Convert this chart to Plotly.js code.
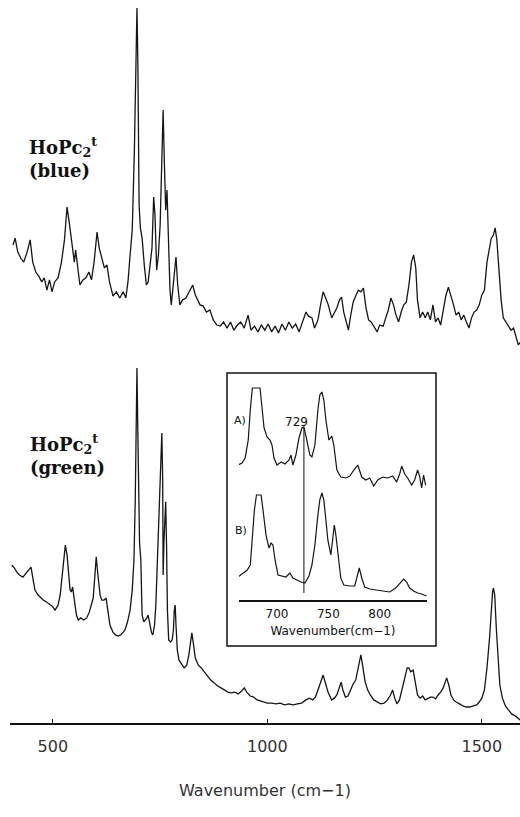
<!DOCTYPE html>
<html><head><meta charset="utf-8">
<script src="https://cdn.plot.ly/plotly-3.0.1.min.js"></script>
<style>html,body{margin:0;padding:0;background:#fff;} #chart{width:520px;height:817px;}</style>
</head><body><div id="chart"></div>
<script>
// Main spectrum: HoPc2t (blue)
const blueWavenumber = [407,412,418,425,432,440,447,453,460,467,474,480,486,492,498,504,512,520,527,533,538,545,550,553,558,563,570,577,584,590,596,603,608,614,620,626,632,640,648,656,664,670,675,680,685,690,694,696,698,701,704,708,713,718,722,727,731,735,738,742,746,750,754,757,760,763,766,769,773,776,780,784,787,791,796,802,810,818,826,832,838,843,850,858,866,874,882,890,898,906,914,922,930,938,946,955,962,970,978,986,994,1002,1010,1018,1026,1034,1042,1050,1058,1066,1074,1082,1090,1096,1104,1110,1118,1124,1130,1136,1142,1150,1156,1162,1168,1173,1178,1184,1189,1194,1200,1206,1212,1218,1224,1230,1236,1242,1250,1256,1262,1270,1276,1282,1288,1294,1300,1306,1312,1318,1324,1330,1336,1341,1346,1350,1356,1362,1368,1374,1380,1386,1392,1398,1404,1410,1416,1422,1428,1434,1440,1446,1452,1458,1464,1470,1476,1482,1488,1494,1500,1506,1512,1518,1522,1527,1531,1535,1540,1545,1550,1556,1562,1568,1574,1580,1585,1590];
const blueIntensity = [30.7,32.7,28.7,26.9,25.7,28.7,32.2,25.7,22.8,21.6,19.9,21.1,17.5,20.5,17.0,19.9,21.1,25.7,32.2,41.8,37.4,30.7,25.7,29.2,24.0,19.0,20.5,21.1,22.8,20.5,25.7,34.5,29.8,26.9,24.0,24.9,19.9,15.8,17.0,15.2,17.0,15.2,19.9,27.8,35.1,58.5,90.6,100,84.8,42.4,35.7,32.7,24.9,19.0,19.9,24.9,29.8,44.7,39.5,23.4,27.8,36.5,52.6,70.2,54.1,40.9,46.8,36.5,17.5,13.2,17.5,23.4,27.2,19.0,13.2,14.6,15.2,17.0,19.0,16.1,14.6,13.2,12.9,11.1,11.7,8.8,7.3,7.0,8.2,6.4,8.2,5.8,7.3,8.2,6.4,10.2,5.8,7.0,5.3,7.3,5.8,7.6,5.3,7.0,5.0,7.6,5.8,8.2,6.4,7.6,5.3,8.2,11.1,9.9,9.4,6.4,8.8,13.2,17.0,15.2,13.2,9.4,11.1,12.3,14.6,15.5,11.1,8.2,5.8,9.9,14.0,15.8,17.5,17.0,18.1,12.3,8.8,8.2,6.4,5.3,7.3,7.0,9.4,11.7,15.2,13.2,10.2,8.2,11.1,13.2,14.0,19.0,25.7,27.8,24.0,14.6,9.4,11.1,9.4,11.1,8.8,13.2,8.2,9.4,7.3,11.1,15.8,18.4,16.1,13.2,10.2,11.1,8.8,10.2,8.2,6.4,9.4,11.1,11.7,13.2,16.1,17.5,25.7,30.7,32.7,33.6,35.7,32.2,22.8,14.6,9.4,8.2,7.3,5.8,6.4,3.5,1.5,2.3];

// Main spectrum: HoPc2t (green)
const greenWavenumber = [404,410,416,422,430,436,442,449,454,458,465,472,478,485,492,498,505,512,517,521,525,529,533,537,540,543,546,550,555,559,565,572,579,585,590,594,598,601,605,610,614,619,624,628,633,640,646,652,658,664,668,674,680,685,689,692,694,696,698,700,702,705,708,712,716,719,722,726,730,733,737,740,743,746,749,752,754,756,757,759,761,763,765,767,770,774,778,781,783,785,787,790,794,800,806,812,817,821,824,828,832,839,846,853,860,868,876,884,892,900,908,916,924,932,940,946,952,960,968,976,984,992,1000,1010,1020,1030,1040,1050,1060,1070,1080,1090,1098,1106,1112,1118,1124,1130,1136,1142,1150,1156,1162,1168,1172,1176,1182,1188,1194,1200,1206,1212,1218,1222,1228,1234,1240,1248,1256,1264,1272,1280,1286,1292,1297,1302,1308,1314,1320,1326,1330,1334,1340,1345,1350,1356,1362,1368,1374,1380,1386,1392,1398,1404,1410,1414,1418,1423,1428,1434,1440,1448,1456,1464,1472,1480,1488,1494,1500,1506,1512,1518,1522,1525,1527,1530,1534,1538,1542,1548,1555,1562,1570,1578,1585,1590];
const greenIntensity = [44.5,43.7,42.5,41.7,41.1,42.0,43.1,43.9,40.3,37.5,36.1,35.2,34.6,34.1,33.5,33.0,31.8,33.2,36.1,40.3,45.9,50.1,47.3,40.8,37.5,36.9,38.3,34.6,30.4,29.0,29.6,29.0,29.6,31.3,33.2,35.2,41.7,46.8,41.7,36.1,34.6,34.6,35.2,31.3,27.6,25.6,24.8,24.5,24.8,25.6,26.2,28.5,31.8,37.5,45.9,62.8,85.4,100,82.5,57.2,51.0,45.9,30.4,28.5,29.0,29.6,30.4,27.6,25.4,24.8,27.6,33.2,43.1,57.2,68.5,76.9,81.7,68.5,41.7,51.5,60.0,62.3,50.1,31.8,23.4,22.8,23.4,26.2,31.8,33.2,27.6,20.6,17.7,16.6,15.5,16.3,19.2,22.8,25.4,22.0,18.3,16.3,15.5,14.4,13.2,12.1,11.3,10.4,9.9,9.3,8.7,8.5,8.7,8.2,9.0,9.9,8.7,7.6,7.3,6.5,6.2,5.9,5.6,5.6,5.4,5.6,5.1,5.4,5.1,5.4,5.6,6.5,7.0,6.5,7.3,9.3,11.5,13.5,11.0,8.5,6.5,7.0,7.9,9.9,11.5,9.3,7.3,7.6,9.3,11.0,12.1,15.5,19.2,16.3,11.5,9.3,7.9,6.5,5.9,5.4,5.6,6.5,7.6,9.3,7.0,5.4,6.5,9.3,12.7,15.5,15.5,14.4,14.9,11.5,7.9,7.0,7.6,6.5,7.0,7.3,7.3,6.8,7.9,8.7,9.9,11.5,12.7,10.7,7.9,6.5,5.9,5.4,4.8,4.5,4.5,4.8,5.1,5.9,7.0,9.3,15.5,23.9,31.8,36.9,38.0,36.1,26.2,17.7,10.7,7.0,4.8,3.7,2.5,2.0,1.4,0.8];

// Inset spectrum A
const insetAWavenumber = [662,666,669,672,674,676,683.5,685.4,687.4,690.3,693.2,695.1,697.1,700,704,707.8,711.7,713.6,715.5,718.4,721.4,724.3,726.2,729,732,734,736.9,739.8,741.7,743.7,745.6,747.6,750.5,753.4,755.3,758.3,762.1,767,770.9,774.8,778.6,782.5,786.4,790.3,794.2,798.1,803,807.8,812.6,816.5,819.4,821.4,824.3,827.2,831.1,834,836.9,838.8,840.8,842.7,844.7];
const insetAIntensity = [24.5,26.5,31.4,49.0,78.4,100,100,83.3,60.8,52.0,49.0,44.1,31.4,24.5,27.5,25.5,29.4,34.3,24.5,34.3,51.0,60.8,61.8,49.0,34.3,32.4,44.1,78.4,93.1,96.1,88.2,68.6,49.0,52.9,44.1,19.6,12.7,11.8,13.7,19.6,24.5,12.7,9.8,11.8,3.9,9.8,12.7,11.8,13.7,7.8,15.7,23.5,15.7,11.8,4.9,9.8,19.6,13.7,2.0,14.7,4.9];

// Inset spectrum B
const insetBWavenumber = [662,667,671,674,676,678,680,684.5,686.4,689.3,692.2,694.2,696.1,698.1,701,705,708.7,712.6,715.5,719.4,723.3,727.2,731.1,734,736.9,739.8,741.7,743.7,745.6,747.6,749.5,752.4,754.4,755.8,757.3,759.2,762.1,765,770.9,775.7,777.7,780.1,782.5,785.4,790.3,797.1,803.9,809.7,815.5,819.4,823.3,826.2,829.1,833,836.9,840.8,845.6];
const insetBIntensity = [21.5,25.2,28.0,32.7,56.1,84.1,98.1,98.1,84.1,60.7,48.6,53.3,51.4,37.4,23.4,22.4,21.5,25.2,20.6,18.7,16.8,15.9,22.4,32.7,51.4,79.4,93.5,100,93.5,74.8,56.1,42.1,60.7,70.1,60.7,42.1,20.6,14.0,13.1,13.1,20.6,29.9,20.6,12.1,10.3,9.3,8.4,7.5,11.2,15.0,19.6,16.8,11.2,8.4,6.5,5.6,3.7];

const mainTicks = [500, 1000, 1500];
const mainTickText = ['500', '1000', '1500'];
const insetTicks = [700, 750, 800];
const insetTickText = ['700', '750', '800'];
const markedPeak = 726.2;
const markedPeakLabel = '729';

const ink = '#151515';
const traces = [
  {x: blueWavenumber, y: blueIntensity, xaxis: 'x', yaxis: 'y2', type: 'scatter', mode: 'lines',
   line: {color: ink, width: 1.3}, name: 'HoPc2t (blue)', hoverinfo: 'skip'},
  {x: greenWavenumber, y: greenIntensity, xaxis: 'x', yaxis: 'y', type: 'scatter', mode: 'lines',
   line: {color: ink, width: 1.3}, name: 'HoPc2t (green)', hoverinfo: 'skip'},
  {x: insetAWavenumber, y: insetAIntensity, xaxis: 'x2', yaxis: 'y4', type: 'scatter', mode: 'lines',
   line: {color: ink, width: 1.2}, name: 'A', hoverinfo: 'skip'},
  {x: insetBWavenumber, y: insetBIntensity, xaxis: 'x2', yaxis: 'y3', type: 'scatter', mode: 'lines',
   line: {color: ink, width: 1.2}, name: 'B', hoverinfo: 'skip'}
];

const layout = {
  width: 520, height: 817,
  margin: {l: 10, r: 0, t: 0, b: 94},
  paper_bgcolor: '#fff', plot_bgcolor: 'rgba(0,0,0,0)',
  showlegend: false,
  font: {family: 'DejaVu Sans', color: '#222'},
  xaxis: {
    domain: [0, 1], range: [400, 1589], anchor: 'y',
    showline: true, linecolor: '#111', linewidth: 2, mirror: false,
    showgrid: false, zeroline: false,
    ticks: 'inside', ticklen: 4, tickwidth: 1, tickcolor: '#111',
    tickvals: mainTicks, ticktext: mainTickText,
    tickfont: {family: 'DejaVu Sans', size: 16, color: '#333'},
    ticklabelstandoff: 8,
    title: {text: 'Wavenumber (cm\u22121)', font: {family: 'DejaVu Sans', size: 16, color: '#333'}, standoff: 30}
  },
  yaxis: {domain: [0, 1], range: [0, 203.66], visible: false, fixedrange: true},
  yaxis2: {overlaying: 'y', range: [-109.06, 102.34], visible: false},
  xaxis2: {
    domain: [0.449, 0.8176], range: [663, 846], anchor: 'y3',
    showline: true, linecolor: '#111', linewidth: 2,
    showgrid: false, zeroline: false, ticks: '',
    tickvals: insetTicks, ticktext: insetTickText,
    tickfont: {family: 'DejaVu Sans', size: 12, color: '#111'},
    ticklabelstandoff: 2,
    title: {text: 'Wavenumber(cm\u22121)', font: {family: 'DejaVu Sans', size: 12, color: '#111'}, standoff: 6}
  },
  yaxis3: {domain: [0.1701, 0.4841], range: [0, 212.1], anchor: 'x2', visible: false},
  yaxis4: {overlaying: 'y3', anchor: 'x2', range: [-107.84, 114.71], visible: false},
  shapes: [
    {type: 'rect', xref: 'paper', yref: 'paper', x0: 0.4255, x1: 0.8353, y0: 0.1065, y1: 0.4841,
     line: {color: '#111', width: 1.5}, fillcolor: 'rgba(0,0,0,0)'},
    {type: 'line', xref: 'x2', yref: 'paper', x0: markedPeak, x1: markedPeak, y0: 0.1798, y1: 0.408,
     line: {color: '#111', width: 1}}
  ],
  annotations: [
    {xref: 'paper', yref: 'paper', x: 0.0333, y: 0.7815, xanchor: 'left', yanchor: 'middle', align: 'left',
     showarrow: false, text: '<b>HoPc<sub>2</sub><sup>t</sup><br>(blue)</b>',
     font: {family: 'DejaVu Serif', size: 18, color: '#111'}},
    {xref: 'paper', yref: 'paper', x: 0.0353, y: 0.372, xanchor: 'left', yanchor: 'middle', align: 'left',
     showarrow: false, text: '<b>HoPc<sub>2</sub><sup>t</sup><br>(green)</b>',
     font: {family: 'DejaVu Serif', size: 18, color: '#111'}},
    {xref: 'paper', yref: 'paper', x: 0.5627, y: 0.4163, xanchor: 'center', yanchor: 'middle',
     showarrow: false, text: markedPeakLabel, font: {family: 'DejaVu Sans', size: 12, color: '#111'}},
    {xref: 'paper', yref: 'paper', x: 0.451, y: 0.419, xanchor: 'center', yanchor: 'middle',
     showarrow: false, text: 'A)', font: {family: 'DejaVu Sans', size: 11, color: '#111'}},
    {xref: 'paper', yref: 'paper', x: 0.453, y: 0.2656, xanchor: 'center', yanchor: 'middle',
     showarrow: false, text: 'B)', font: {family: 'DejaVu Sans', size: 11, color: '#111'}}
  ]
};

Plotly.newPlot('chart', traces, layout, {staticPlot: true, displayModeBar: false});
</script>
</body></html>
